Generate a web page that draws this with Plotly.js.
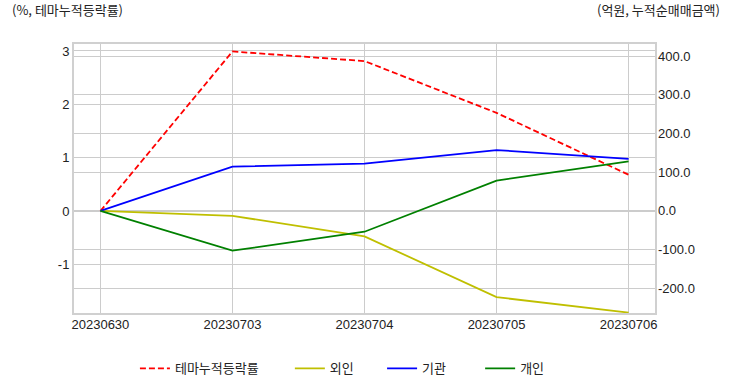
<!DOCTYPE html>
<html>
<head>
<meta charset="utf-8">
<script src="https://cdn.plot.ly/plotly-3.0.1.min.js"></script>
<style>html,body{margin:0;padding:0;background:#fff;}#chart{width:732px;height:392px;}</style>
</head>
<body>
<div id="chart"></div>
<script>
const dates = ["20230630", "20230703", "20230704", "20230705", "20230706"];
const themeRate = [0, 2.99, 2.81, 1.84, 0.68];
const foreign = [0, -13, -66, -223, -263];
const institution = [0, 114, 122, 157, 134];
const individual = [0, -103, -54, 78, 128];
const leftTicks = [-1, 0, 1, 2, 3];
const rightTicks = [-200, -100, 0, 100, 200, 300, 400];
const seriesNames = ["테마누적등락률", "외인", "기관", "개인"];

const tickFont = {family: "Liberation Sans, Arial, sans-serif", size: 13, color: "#222"};
const korFont = "Noto Sans CJK KR, sans-serif";
const sp = n => "\u00a0".repeat(n);

const traces = [
  {x: dates, y: themeRate, name: seriesNames[0] + sp(9), type: "scatter", mode: "lines",
   line: {color: "#ff0000", width: 1.8, dash: "6px,3px"}, yaxis: "y"},
  {x: dates, y: foreign, name: seriesNames[1] + sp(8), type: "scatter", mode: "lines",
   line: {color: "#bfbf00", width: 1.8}, yaxis: "y2"},
  {x: dates, y: institution, name: seriesNames[2] + sp(10), type: "scatter", mode: "lines",
   line: {color: "#0000ff", width: 1.8}, yaxis: "y2"},
  {x: dates, y: individual, name: seriesNames[3], type: "scatter", mode: "lines",
   line: {color: "#008000", width: 1.8}, yaxis: "y2"}
];

const layout = {
  width: 732, height: 392,
  margin: {l: 74, r: 77, t: 44, b: 79, autoexpand: false},
  paper_bgcolor: "#fff", plot_bgcolor: "#fff",
  showlegend: true,
  legend: {orientation: "h", x: 0.462, xanchor: "center", y: -0.15, yanchor: "top",
           font: {family: korFont, size: 13, color: "#222"}, tracegroupgap: 0},
  xaxis: {type: "category", range: [-0.2, 4.2], tickvals: dates, ticktext: dates,
          showgrid: true, gridcolor: "#cccccc", gridwidth: 1, zeroline: false,
          showline: true, linecolor: "#d0d0d0", linewidth: 2, mirror: true,
          ticks: "", tickfont: tickFont, ticklabelstandoff: -2},
  yaxis: {range: [-1.91, 3.13], tickvals: leftTicks, ticktext: leftTicks.map(String),
          showgrid: true, gridcolor: "#cccccc", gridwidth: 1, zeroline: false,
          showline: true, linecolor: "#d0d0d0", linewidth: 2, mirror: true,
          ticks: "", tickfont: tickFont},
  yaxis2: {overlaying: "y", side: "right", range: [-264, 431], tickvals: rightTicks,
           ticktext: rightTicks.map(v => v.toFixed(1)),
           showgrid: true, gridcolor: "#cccccc", gridwidth: 1, zeroline: false,
           showline: false, ticks: "", tickfont: tickFont, ticklabelstandoff: 2},
  annotations: [
    {text: "(%, 테마누적등락률)", xref: "paper", yref: "paper", x: -0.111, y: 1.127,
     xanchor: "left", yanchor: "middle", showarrow: false,
     font: {family: korFont, size: 13, color: "#222"}},
    {text: "(억원, 누적순매매금액)", xref: "paper", yref: "paper", x: 1.115, y: 1.127,
     xanchor: "right", yanchor: "middle", showarrow: false,
     font: {family: korFont, size: 13, color: "#222"}}
  ]
};

Plotly.newPlot("chart", traces, layout, {displayModeBar: false, staticPlot: true});
</script>
</body>
</html>
